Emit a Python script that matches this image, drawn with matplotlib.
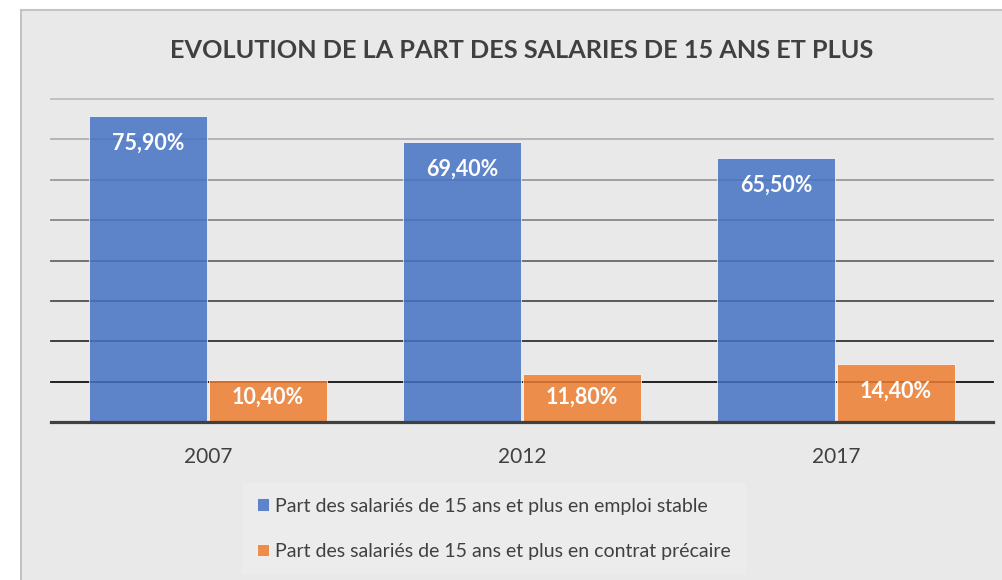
import matplotlib as mpl
from matplotlib import pyplot as plt
from matplotlib.patches import Rectangle, Patch
import numpy as np

mpl.rcParams['font.family'] = ['Lato', 'DejaVu Sans']

# ===================== données =====================
years = ["2007", "2012", "2017"]
stable = [75.9, 69.4, 65.5]
precaire = [10.4, 11.8, 14.4]
stable_labels = ["75,90%", "69,40%", "65,50%"]
precaire_labels = ["10,40%", "11,80%", "14,40%"]
legend_labels = [
    "Part des salariés de 15 ans et plus en emploi stable",
    "Part des salariés de 15 ans et plus en contrat précaire",
]
title = "EVOLUTION DE LA PART DES SALARIES DE 15 ANS ET PLUS"

blue = "#4472C4"
orange = "#ED7D31"
txt = "#404040"

# ===================== figure =====================
W, H = 1002, 580
fig = plt.figure(figsize=(W / 100, H / 100), dpi=100, facecolor="white")

# zone du graphique (fond gris + bordure)
fig.patches.append(Rectangle((21 / W, -0.05), 1.2, (H - 10) / H + 0.05,
                             transform=fig.transFigure, facecolor="#e9e9e9",
                             edgecolor="#c3c3c3", lw=1.5, zorder=-5))

ax = fig.add_axes([51 / W, (H - 422) / H, 942 / W, 323 / H])
ax.set_facecolor("none")

x = np.arange(len(years))
bw = 0.375
off = 0.19

# grille (de plus en plus foncée vers le bas)
grid_cols = ["#111111", "#333333", "#505050", "#686868", "#878787",
             "#9a9a9a", "#b0b0b0", "#bdbdbd"]
for i, g in enumerate(range(10, 90, 10)):
    ax.axhline(g, color=grid_cols[i], lw=1.3, zorder=1, clip_on=False)

ax.bar(x - off, stable, bw, color=blue, alpha=0.85, edgecolor="white",
       linewidth=0.6, zorder=2)
ax.bar(x + off, precaire, bw, color=orange, alpha=0.85, edgecolor="white",
       linewidth=0.6, zorder=2)

ax.axhline(0, color="#404040", lw=2.3, zorder=3, clip_on=False)

# étiquettes de données
for xi, v, s in zip(x, stable, stable_labels):
    ax.text(xi - off, v - 6.8, s, ha="center", va="center", color="white",
            fontsize=15.5, fontweight="bold", zorder=4)
for xi, v, s in zip(x, precaire, precaire_labels):
    ax.text(xi + off, max(v - 6.8, 6.2), s, ha="center", va="center",
            color="white", fontsize=15.5, fontweight="bold", zorder=4)

ax.set_xlim(-0.5, 2.5)
ax.set_ylim(0, 80)
ax.set_yticks([])
ax.set_xticks(x, years)
ax.tick_params(axis="x", length=0, pad=18, labelsize=15, labelcolor=txt)
for sp in ax.spines.values():
    sp.set_visible(False)

fig.text(522 / W, 1 - 50 / H, title, ha="center", va="center",
         fontsize=18.2, fontweight="bold", color=txt)

handles = [Patch(facecolor=blue, alpha=0.85, edgecolor="white", lw=0.6),
           Patch(facecolor=orange, alpha=0.85, edgecolor="white", lw=0.6)]
leg = fig.legend(handles, legend_labels, loc="upper left",
                 bbox_to_anchor=(242 / W, 1 - 483 / H), frameon=True,
                 facecolor="#ececec", edgecolor="none", fancybox=False,
                 fontsize=14, handlelength=0.62, handleheight=0.62,
                 handletextpad=0.35, labelspacing=1.45, borderpad=0.75,
                 labelcolor=txt, borderaxespad=0)
leg.get_frame().set_alpha(1)

plt.savefig("out.png", dpi=100)
